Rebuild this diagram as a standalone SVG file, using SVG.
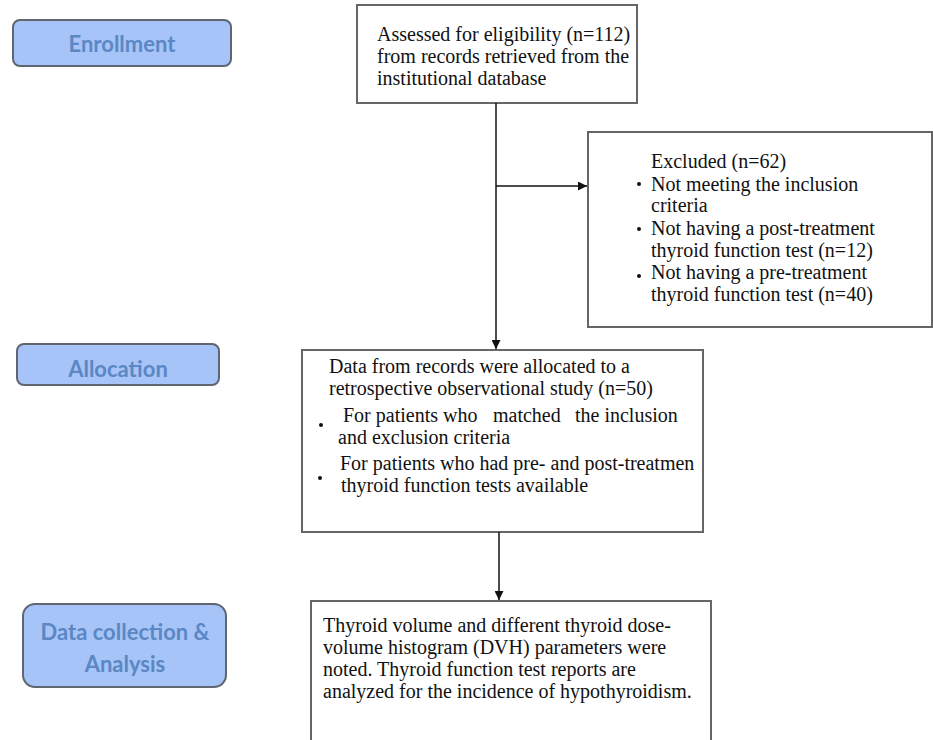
<svg xmlns="http://www.w3.org/2000/svg" width="933" height="740" viewBox="0 0 933 740">
<style>
.lbl rect{fill:#a6c4f8;stroke:#5f6670;stroke-width:2}
.lbl text{font-family:Lato,"Open Sans",sans-serif;font-weight:700;font-size:22px;fill:#5b87c4;text-anchor:middle}
.box rect{fill:#fff;stroke:#666;stroke-width:2}
.box text{font-family:"Liberation Serif","Times New Roman",serif;font-size:20px;fill:#111}
.dot{fill:#111}
.conn line{stroke:#111;stroke-width:1.5}
</style>
<defs>
<marker id="ah" viewBox="0 0 10 10" refX="10" refY="5" markerWidth="9" markerHeight="9" markerUnits="userSpaceOnUse" orient="auto">
<path d="M0,0 L10,5 L0,10 z" fill="#111"/>
</marker>
</defs>
<rect width="933" height="740" fill="#fff"/>
<g id="enrollment" class="lbl">
<rect x="13" y="20" width="218" height="46" rx="7"/>
<text x="122" y="52">Enrollment</text>
</g>
<g id="allocation" class="lbl">
<rect x="17" y="344" width="202" height="41" rx="7"/>
<text x="118" y="377">Allocation</text>
</g>
<g id="datacollection" class="lbl">
<rect x="23" y="604" width="203" height="83" rx="12"/>
<text x="125" y="640">Data collection &amp;</text>
<text x="125" y="672">Analysis</text>
</g>
<g id="assessed" class="box">
<rect x="357" y="5" width="280" height="98"/>
<text x="377" y="41">Assessed for eligibility (n=112)</text>
<text x="377" y="63">from records retrieved from the</text>
<text x="377" y="85">institutional database</text>
</g>
<g id="excluded" class="box">
<rect x="588" y="132" width="344" height="195"/>
<text x="651" y="168">Excluded (n=62)</text>
<circle class="dot" cx="639" cy="184" r="2"/>
<text x="651" y="191">Not meeting the inclusion</text>
<text x="651" y="212">criteria</text>
<circle class="dot" cx="639" cy="229" r="2"/>
<text x="651" y="235">Not having a post-treatment</text>
<text x="651" y="257">thyroid function test (n=12)</text>
<circle class="dot" cx="639" cy="276" r="2"/>
<text x="651" y="279">Not having a pre-treatment</text>
<text x="651" y="301">thyroid function test (n=40)</text>
</g>
<g id="allocated" class="box">
<rect x="302" y="350" width="401" height="182"/>
<text x="329" y="373">Data from records were allocated to a</text>
<text x="329" y="395">retrospective observational study (n=50)</text>
<circle class="dot" cx="321" cy="425" r="2"/>
<text y="422"><tspan x="343">For patients who</tspan><tspan x="493">matched</tspan><tspan x="575">the inclusion</tspan></text>
<text x="338" y="444">and exclusion criteria</text>
<circle class="dot" cx="320" cy="478" r="2"/>
<text x="340" y="470">For patients who had pre- and post-treatmen</text>
<text x="341" y="492">thyroid function tests available</text>
</g>
<g id="analysis" class="box">
<rect x="311" y="601" width="400" height="150"/>
<text x="323" y="632">Thyroid volume and different thyroid dose-</text>
<text x="323" y="654">volume histogram (DVH) parameters were</text>
<text x="323" y="676">noted. Thyroid function test reports are</text>
<text x="323" y="698">analyzed for the incidence of hypothyroidism.</text>
</g>
<g id="connectors" class="conn">
<line x1="496" y1="103" x2="496" y2="349" marker-end="url(#ah)"/>
<line x1="496" y1="186" x2="587" y2="186" marker-end="url(#ah)"/>
<line x1="499" y1="532" x2="499" y2="600" marker-end="url(#ah)"/>
</g>
</svg>
